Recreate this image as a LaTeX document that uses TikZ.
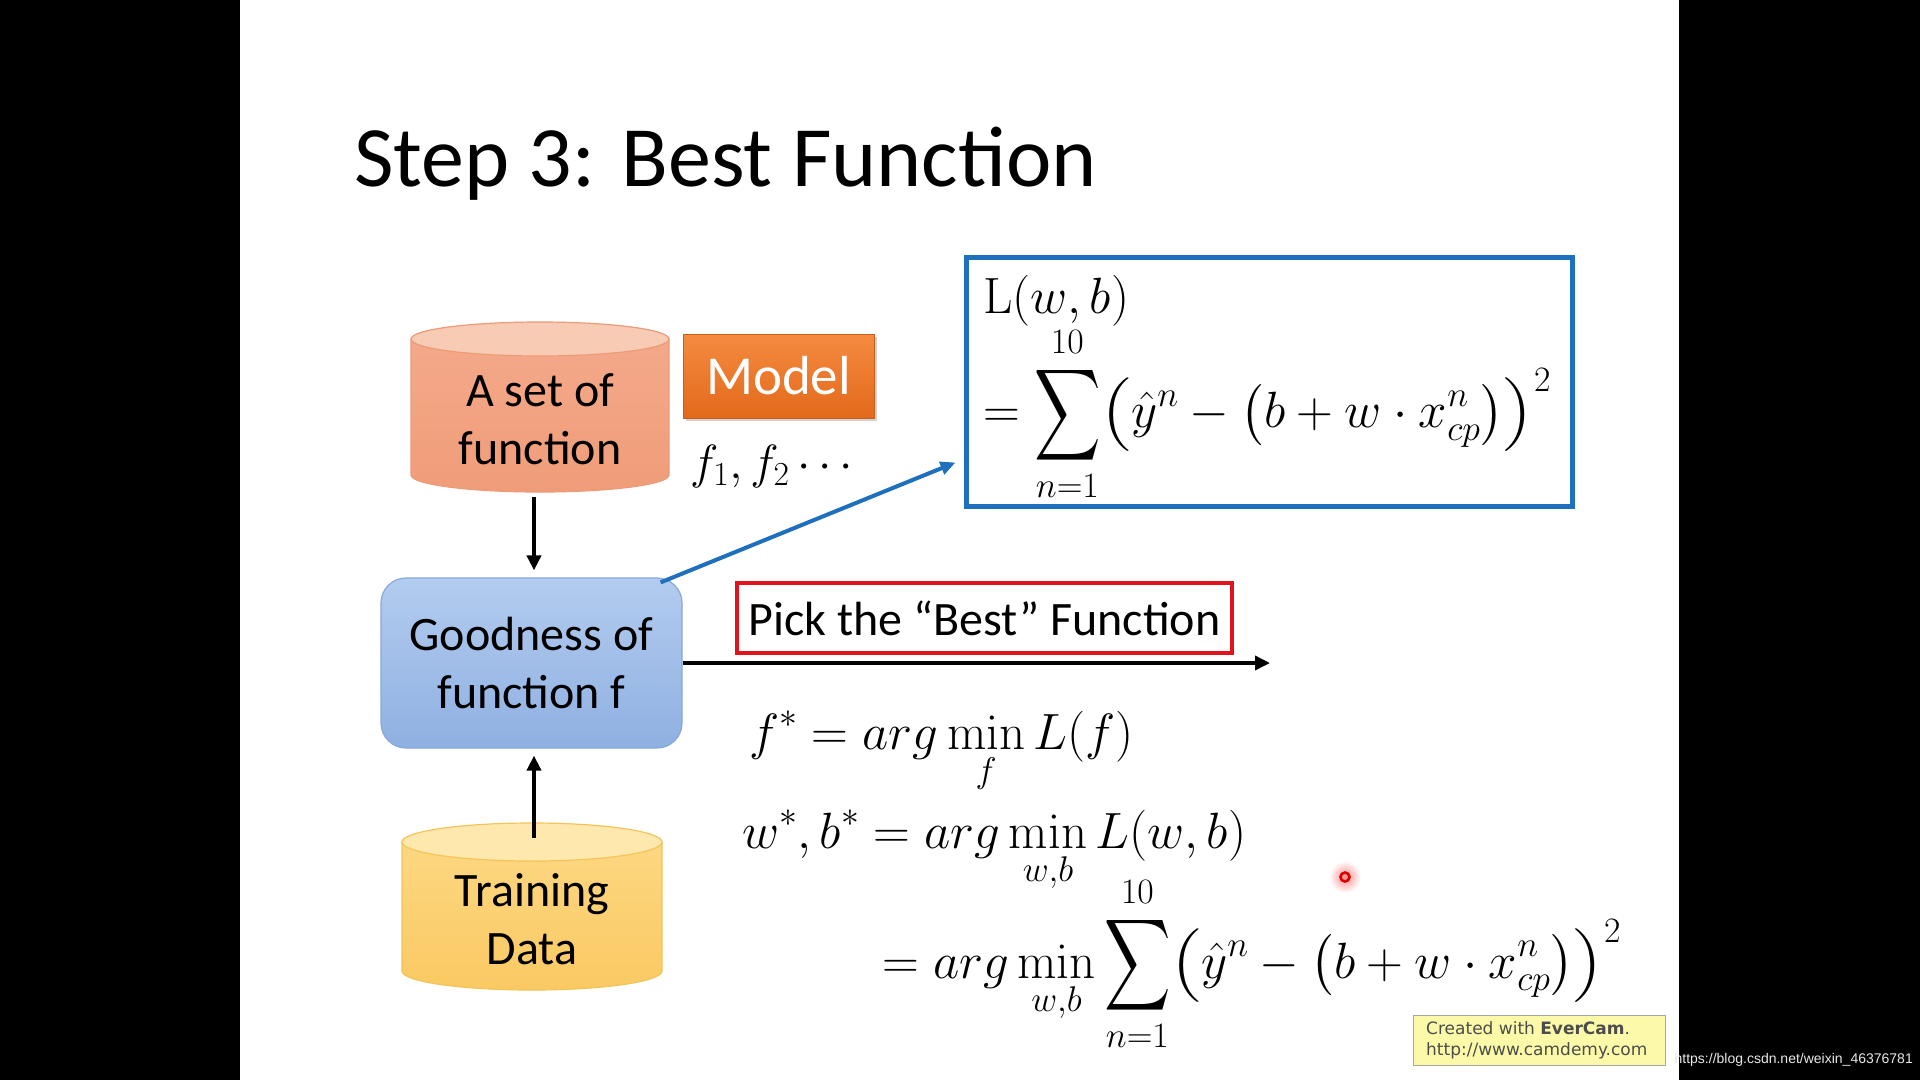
\documentclass[tikz,border=0pt]{standalone}
\usepackage{fix-cm}
\usepackage{amsmath}
\DeclareFontShape{OMX}{cmex}{m}{n}{<->cmex10}{}
\usepackage[no-math]{fontspec}
\setmainfont{Carlito}
\newfontfamily\wmfont{Liberation Sans}
\newfontfamily\ecfont{DejaVu Sans}
\usetikzlibrary{arrows.meta,shadows}
\newcommand{\Bsum}{\mathop{\vcenter{\hbox{\scalebox{0.72}[1]{\fontsize{64}{64}\selectfont$\displaystyle\sum$}}}}\limits}
\newcommand{\lp}[2]{\mathopen{\vcenter{\hbox{\scalebox{1}[#2]{$\left(\vcenter to #1{}\right.\kern-\nulldelimiterspace$}}}}}
\newcommand{\rp}[2]{\mathclose{\vcenter{\hbox{\scalebox{1}[#2]{$\kern-\nulldelimiterspace\left.\vcenter to #1{}\right)$}}}}}
\newcommand{\lossterm}{\lp{88pt}{0.8}\hat{y}^n - \lp{58pt}{1}b + w\cdot x_{cp}^n\rp{58pt}{1}\rp{88pt}{0.8}^2}
\definecolor{salmonbody}{HTML}{F4A98A}
\definecolor{salmonbot}{HTML}{F09C78}
\definecolor{salmontop}{HTML}{F8CBB5}
\definecolor{salmonline}{HTML}{EC9B78}
\definecolor{modeltop}{HTML}{F48B40}
\definecolor{modelbot}{HTML}{E3691B}
\definecolor{goodtop}{HTML}{B3CCEF}
\definecolor{goodbot}{HTML}{8FB0E2}
\definecolor{goodline}{HTML}{86A8DC}
\definecolor{traintop}{HTML}{FFE8AE}
\definecolor{trainbody}{HTML}{FDD782}
\definecolor{trainbot}{HTML}{FAC962}
\definecolor{trainline}{HTML}{F3C45A}
\definecolor{lossblue}{HTML}{1F6FBF}
\definecolor{pickred}{HTML}{E0121C}
\definecolor{ecyellow}{HTML}{FCFAA8}
\begin{document}
\begin{tikzpicture}[x=1pt,y=-1pt,
  body/.style={inner sep=0pt,align=center,font=\fontsize{48}{57.5}\selectfont},
  mth/.style={inner sep=0pt,font=\fontsize{51}{44}\selectfont},
  blkarrow/.style={line width=4pt,-{Triangle[length=15pt,width=14pt]}},
  bluearrow/.style={draw=lossblue,line width=4pt,-{Triangle[length=15pt,width=13pt]}}]
% background
\fill[black] (0,0) rectangle (1920,1080);
\fill[white] (240,0) rectangle (1679,1080);
\useasboundingbox (0,0) rectangle (1920,1080);
% title
\node[inner sep=0pt,anchor=base west,font=\fontsize{86}{100}\selectfont] (title) at (354,186) {Step 3: Best Function};
% cylinder: a set of function
\path[top color=salmonbody,bottom color=salmonbot,draw=salmonline,line width=1.2pt]
  (411,339) -- (411,475) arc[start angle=180,end angle=360,x radius=129pt,y radius=17pt] -- (669,339) -- cycle;
\filldraw[fill=salmontop,draw=salmonline,line width=1.2pt] (540,339) ellipse[x radius=129pt,y radius=17pt];
\node[body] (set) at (540,419) {A set of\\function};
\coordinate (setbase) at (534,492);
% model
\node[inner sep=0pt,minimum width=191pt,minimum height=84pt,top color=modeltop,bottom color=modelbot,
  draw=modelbot!90!black,line width=0.8pt,text=white,font=\fontsize{55}{60}\selectfont,
  drop shadow={opacity=0.35,shadow xshift=3pt,shadow yshift=-3pt}] (model) at (778.5,376) {Model};
\node[mth,anchor=base west,font=\fontsize{48}{44}\selectfont] (fs) at (690,478) {$f_1, f_2 \cdots$};
% goodness
\node[body,minimum width=301pt,minimum height=170pt,rounded corners=25pt,top color=goodtop,bottom color=goodbot,
  draw=goodline,line width=1.2pt] (good) at (531.5,663) {Goodness of\\function f};
% training data
\path[top color=trainbody,bottom color=trainbot,draw=trainline,line width=1.2pt]
  (402,842) -- (402,971) arc[start angle=180,end angle=360,x radius=130pt,y radius=19pt] -- (662,842) -- cycle;
\filldraw[fill=traintop,draw=trainline,line width=1.2pt] (532,842) ellipse[x radius=130pt,y radius=19pt];
\node[body] (train) at (532,919) {Training\\Data};
\coordinate (traintopc) at (534,838);
% arrows
\draw[blkarrow] ([yshift=-5pt]setbase) -- ([xshift=2.5pt,yshift=7pt]good.north);
\draw[blkarrow] (traintopc) -- ([xshift=2.5pt,yshift=-7pt]good.south);
% loss box
\node[draw=lossblue,line width=5pt,minimum width=606pt,minimum height=249pt,inner sep=0pt] (loss) at (1269,381.5) {};
\node[mth,anchor=west] (lwb) at (983,301) {$\mathrm{L}(w,b)$};
\node[mth,anchor=west] (lsum) at (983,414) {$\displaystyle = \Bsum_{n=1}^{10}\lossterm$};
\draw[bluearrow] ([xshift=-22pt,yshift=-5pt]good.north east) -- ([xshift=-8pt,yshift=46pt]loss.south west);
% pick
\node[body,draw=pickred,line width=4pt,minimum width=495pt,minimum height=70pt] (pick) at (984.5,618) {Pick the “Best” Function};
\coordinate (bestend) at (1270,663);
\draw[blkarrow,line width=3.5pt] (good.east) -- (bestend);
% formulas
\node[mth,anchor=base west] (fstar) at (749,749) {$\displaystyle f^* = arg\min_{f} L(f)$};
\node[mth,anchor=base west] (wstar) at (742,848) {$\displaystyle w^*, b^* = arg\min_{w,b} L(w,b)$};
\node[mth,anchor=base west] (third) at (882,978) {$\displaystyle = arg\min_{w,b}\Bsum_{n=1}^{10}\lossterm$};
% pointer dot
\shade[inner color=red!45,outer color=white] (1345,877) circle[radius=16pt];
\draw[draw=red!85!black,line width=2.6pt] (1345,877) circle[radius=4.5pt];
% evercam
\node[draw=gray!70,line width=1pt,fill=ecyellow,minimum width=252pt,minimum height=50pt,inner sep=0pt] (ec) at (1539,1040) {};
\node[inner sep=0pt,anchor=west,text=black!70,font=\ecfont\fontsize{17}{21}\selectfont,align=left] (ectext) at (1426,1040)
  {Created with \textbf{EverCam}.\\http://www.camdemy.com};
% watermark
\node[inner sep=0pt,anchor=east,text=white!82!gray,font=\wmfont\fontsize{14}{17}\selectfont] (wm) at (1913,1060) {https://blog.csdn.net/weixin\_46376781};
\end{tikzpicture}
\end{document}
